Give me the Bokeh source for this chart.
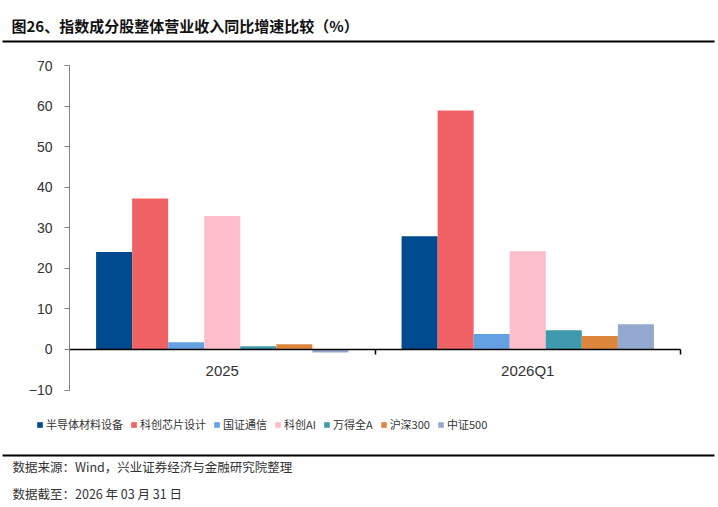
from bokeh.plotting import figure
from bokeh.models import Range1d, Label, BoxAnnotation, Legend, LegendItem, FixedTicker
from bokeh.embed import file_html
from bokeh.resources import INLINE

categories = ["2025", "2026Q1"]
series_names = ["半导体材料设备", "科创芯片设计", "国证通信", "科创AI", "万得全A", "沪深300", "中证500"]
v_semi = [24.0, 27.9]
v_chip = [37.2, 58.9]
v_telecom = [1.8, 3.8]
v_ai = [32.9, 24.2]
v_wind_a = [0.8, 4.7]
v_hs300 = [1.3, 3.3]
v_zz500 = [-0.75, 6.2]
series_values = [v_semi, v_chip, v_telecom, v_ai, v_wind_a, v_hs300, v_zz500]
colors = ["#004B90", "#F06263", "#63A1E3", "#FFBCCB", "#3F9AAD", "#DD873D", "#94A9D0"]
y_ticks = [-10, 0, 10, 20, 30, 40, 50, 60, 70]
y_min, y_max = -10, 70

# layout (page pixels)
W, H = 716, 505
AX_L, AX_R = 69, 680        # x extent of category axis
Y_TOP, Y_BOT = 65, 389.5    # y of y_max and y_min
n_cat = len(categories)
kx = (AX_R - AX_L) / n_cat
ky = (Y_BOT - Y_TOP) / (y_max - y_min)

p = figure(x_range=Range1d(-AX_L / kx, n_cat + (W - AX_R) / kx),
           y_range=Range1d(y_min - (H - Y_BOT) / ky, y_max + Y_TOP / ky),
           width=W, height=H, output_backend="svg", toolbar_location=None,
           min_border_left=0, min_border_right=0, min_border_top=0, min_border_bottom=0)
p.outline_line_color = None
p.xgrid.grid_line_color = None
p.ygrid.grid_line_color = None

bw = 0.118
n = len(series_names)
items = []
for i, (name, vals, c) in enumerate(zip(series_names, series_values, colors)):
    xs = [j + 0.5 + (i - (n - 1) / 2) * bw for j in range(n_cat)]
    r = p.vbar(x=xs, top=vals, bottom=0, width=bw, fill_color=c, line_color=None)
    items.append(LegendItem(label=name, renderers=[r]))

# y axis at the left edge of the categories
p.yaxis.fixed_location = 0
p.yaxis.bounds = (y_min, y_max)
p.yaxis.ticker = FixedTicker(ticks=y_ticks)
p.yaxis.axis_line_color = "#808080"
p.yaxis.major_tick_line_color = "#808080"
p.yaxis.major_tick_out = 5
p.yaxis.major_tick_in = 0
p.yaxis.minor_tick_line_color = None
p.yaxis.major_label_text_font = "Liberation Sans"
p.yaxis.major_label_text_font_size = "14px"
p.yaxis.major_label_text_color = "#333333"
p.yaxis.major_label_standoff = 12

# x axis at zero, category labels at centres, ticks at boundaries
p.xaxis.fixed_location = 0
p.xaxis.bounds = (0, n_cat)
p.xaxis.ticker = FixedTicker(ticks=[j + 0.5 for j in range(n_cat)],
                             minor_ticks=list(range(1, n_cat + 1)))
p.xaxis.major_label_overrides = {j + 0.5: c for j, c in enumerate(categories)}
p.xaxis.axis_line_color = "black"
p.xaxis.axis_line_width = 1.5
p.xaxis.major_tick_line_color = None
p.xaxis.major_tick_out = 0
p.xaxis.major_tick_in = 0
p.xaxis.minor_tick_line_color = "black"
p.xaxis.minor_tick_line_width = 1.5
p.xaxis.minor_tick_out = 5
p.xaxis.minor_tick_in = 0
p.xaxis.major_label_text_font = "Liberation Sans"
p.xaxis.major_label_text_font_size = "15px"
p.xaxis.major_label_text_color = "#333333"
p.xaxis.major_label_standoff = 8


def sx(px):
    return px


def sy(py):
    return H - py


# legend
leg = Legend(items=items, orientation="horizontal", location=(sx(36), sy(432)))
leg.label_text_font = "Noto Sans CJK SC"
leg.label_text_font_size = "11px"
leg.label_text_color = "#333333"
leg.glyph_width = 7
leg.glyph_height = 7
leg.label_standoff = 3
leg.spacing = 7
leg.padding = 2
leg.margin = 0
leg.border_line_color = None
leg.background_fill_alpha = 0
p.add_layout(leg)

# title and notes
p.add_layout(Label(x=sx(11), y=sy(25), x_units="screen", y_units="screen",
                   text="图26、指数成分股整体营业收入同比增速比较（%）",
                   text_font="Noto Sans CJK SC", text_font_style="bold",
                   text_font_size="15px", text_color="#111111", text_baseline="middle"))
p.add_layout(Label(x=sx(12), y=sy(466), x_units="screen", y_units="screen",
                   text="数据来源：Wind，兴业证券经济与金融研究院整理",
                   text_font="Noto Sans CJK SC", text_font_size="12.5px",
                   text_color="#333333", text_baseline="middle"))
p.add_layout(Label(x=sx(12), y=sy(493), x_units="screen", y_units="screen",
                   text="数据截至：2026 年 03 月 31 日",
                   text_font="Noto Sans CJK SC", text_font_size="12.5px",
                   text_color="#333333", text_baseline="middle"))
for ly in (41, 455):
    p.add_layout(BoxAnnotation(left=sx(2), right=sx(714), top=sy(ly - 1), bottom=sy(ly + 1),
                               left_units="screen", right_units="screen",
                               top_units="screen", bottom_units="screen",
                               fill_color="black", fill_alpha=1, line_color=None))

open("out.html", "w").write(file_html(p, INLINE))
